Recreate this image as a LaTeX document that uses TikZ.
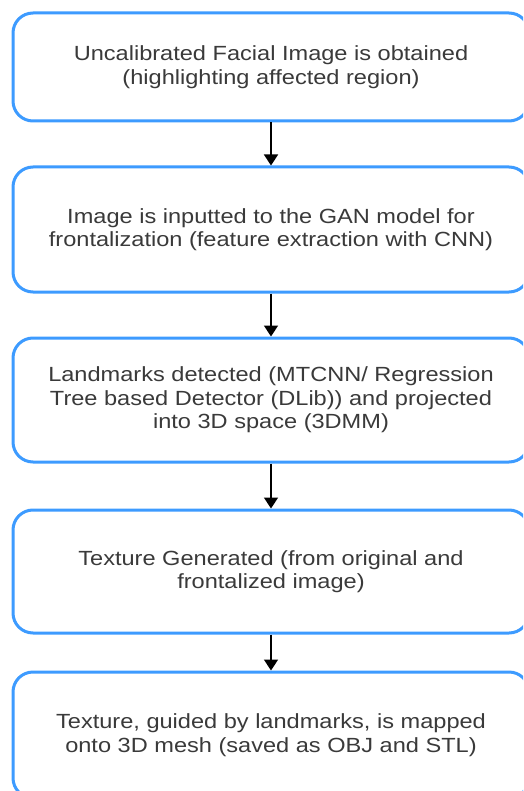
\documentclass[tikz,border=0pt]{standalone}
\usepackage{fontspec}
\newfontfamily\boxfont{Liberation Sans}[FakeStretch=1.15]
\usetikzlibrary{arrows.meta}
\definecolor{boxblue}{HTML}{3D9BFF}
\definecolor{txtgray}{HTML}{3A3A3A}
\tikzset{
  stepbox/.style={draw=boxblue, line width=3pt, rounded corners=20pt, fill=white,
    minimum width=516pt, align=center, inner sep=0pt,
    font=\boxfont\fontsize{20.5}{23.5}\selectfont, text=txtgray},
  flow/.style={line width=1.6pt, black, -{Triangle[width=14pt,length=11pt]}}
}
\begin{document}
\begin{tikzpicture}[x=1pt,y=-1pt]
\useasboundingbox (0,0) rectangle (523,791);
\begin{scope}
\clip (0,0) rectangle (523,791);
\node[stepbox, minimum height=108pt] (b1) at (271,67)
  {Uncalibrated Facial Image is obtained\\(highlighting affected region)};
\node[stepbox, minimum height=125pt] (b2) at (271,229.5)
  {Image is inputted to the GAN model for\\frontalization (feature extraction with CNN)};
\node[stepbox, minimum height=124pt] (b3) at (271,400)
  {Landmarks detected (MTCNN/ Regression\\Tree based Detector (DLib)) and projected\\into 3D space (3DMM)};
\node[stepbox, minimum height=123pt] (b4) at (271,571.5)
  {Texture Generated (from original and\\frontalized image)};
\node[stepbox, minimum height=126pt] (b5) at (271,735)
  {Texture, guided by landmarks, is mapped\\onto 3D mesh (saved as OBJ and STL)};
\draw[flow] (b1.south) -- (b2.north);
\draw[flow] (b2.south) -- (b3.north);
\draw[flow] (b3.south) -- (b4.north);
\draw[flow] (b4.south) -- (b5.north);
\end{scope}
\end{tikzpicture}
\end{document}
